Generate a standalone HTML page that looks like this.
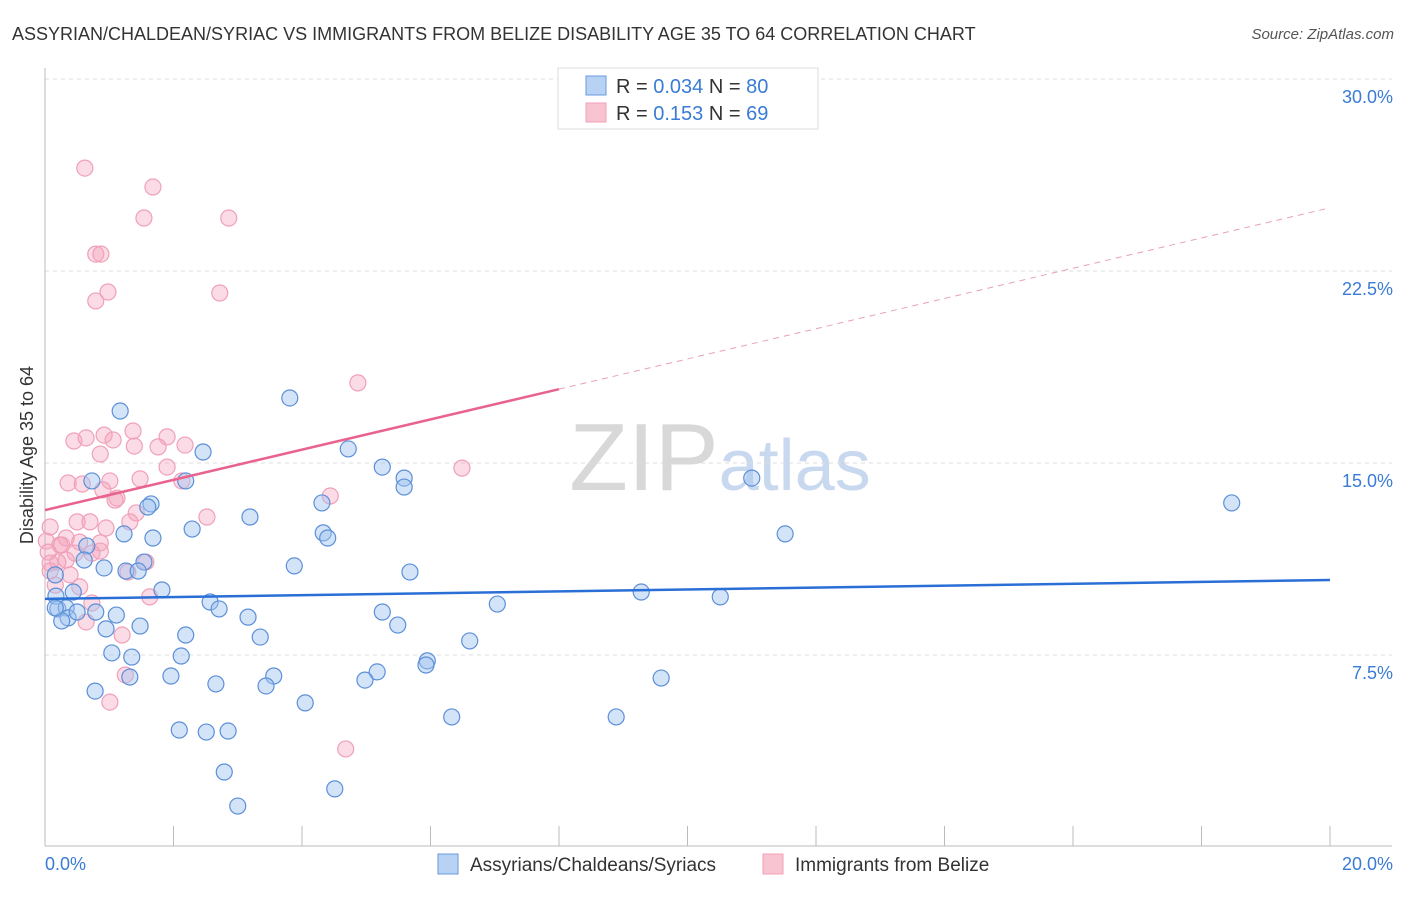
<!DOCTYPE html>
<html><head><meta charset="utf-8"><style>
body{margin:0;background:#fff;font-family:"Liberation Sans",sans-serif}
svg text{font-family:"Liberation Sans",sans-serif}
</style></head><body>
<svg id="c" width="1406" height="892" xmlns="http://www.w3.org/2000/svg">
<text x="12" y="40" font-size="18" fill="#333">ASSYRIAN/CHALDEAN/SYRIAC VS IMMIGRANTS FROM BELIZE DISABILITY AGE 35 TO 64 CORRELATION CHART</text>
<text x="1394" y="39" font-size="15" fill="#555" font-style="italic" text-anchor="end">Source: ZipAtlas.com</text>
<text x="720" y="490" font-size="96" fill="#ddd" text-anchor="middle" font-family="Liberation Serif"><tspan fill="#d8d8d8">ZIP</tspan><tspan fill="#c8d8ee" font-family="Liberation Sans" font-size="72">atlas</tspan></text>
<g id="grid"></g><g id="axes"></g><g id="pts"></g><g id="lines"></g>
<text transform="translate(33,455) rotate(-90)" font-size="18" fill="#333" text-anchor="middle">Disability Age 35 to 64</text>
<g>
<rect x="558" y="68" width="260" height="61" fill="#fff" stroke="#ddd"/>
<rect x="586" y="76" width="20" height="19" fill="#b8d2f4" stroke="#6a9ae0"/>
<rect x="586" y="103" width="20" height="19" fill="#f8c4d2" stroke="#f0a0b8"/>
<text x="616" y="93" font-size="20" fill="#333">R = <tspan fill="#3a7bd5">0.034</tspan>   N = <tspan fill="#3a7bd5">80</tspan></text>
<text x="616" y="120" font-size="20" fill="#333">R =  <tspan fill="#3a7bd5">0.153</tspan>   N = <tspan fill="#3a7bd5">69</tspan></text>
</g>
<g>
<rect x="438" y="854" width="20" height="20" fill="#b8d2f4" stroke="#6a9ae0"/>
<text x="470" y="871" font-size="19" fill="#333">Assyrians/Chaldeans/Syriacs</text>
<rect x="763" y="854" width="20" height="20" fill="#f8c4d2" stroke="#f0a0b8"/>
<text x="795" y="871" font-size="19" fill="#333">Immigrants from Belize</text>
</g>
</svg>
<script>
const blueX=[1.17,3.81,2.46,4.72,2.19,1.65,1.60,0.73,5.25,5.59,5.59,11.00,18.47,4.31,3.19,2.29,1.23,1.68,4.33,4.40,11.52,0.65,1.54,0.61,0.92,3.88,5.68,1.26,1.45,0.16,1.82,0.44,0.17,9.28,10.51,7.04,0.20,0.33,2.57,2.71,5.25,1.11,0.36,0.79,0.26,3.16,5.49,0.95,1.48,2.19,3.35,6.61,1.04,2.12,1.35,5.95,5.93,5.17,1.96,1.32,3.56,4.98,9.59,2.66,3.44,0.78,4.05,6.33,8.89,2.09,2.51,2.85,2.79,3.00,4.51,0.16,0.50];
const blueY=[17.03,17.54,15.43,15.55,14.30,13.40,13.28,14.30,14.84,14.41,14.06,14.41,13.44,13.44,12.89,12.42,12.23,12.07,12.27,12.07,12.23,11.76,11.13,11.21,10.90,10.98,10.74,10.78,10.78,10.63,10.04,9.96,9.80,9.96,9.77,9.49,9.30,9.34,9.57,9.30,9.18,9.06,8.95,9.18,8.83,8.98,8.67,8.52,8.63,8.28,8.20,8.05,7.58,7.46,7.42,7.27,7.11,6.84,6.68,6.64,6.68,6.52,6.60,6.37,6.29,6.09,5.63,5.08,5.08,4.57,4.49,4.53,2.93,1.60,2.27,9.34,9.18];
const pinkX=[0.62,1.68,1.54,2.86,0.79,0.87,0.98,2.72,0.79,4.87,6.49,0.45,0.64,0.92,1.37,1.06,1.90,1.76,2.18,1.39,0.86,0.36,0.58,1.01,1.48,1.90,2.13,0.90,1.12,4.44,1.09,2.52,0.50,0.70,1.42,0.95,1.32,0.08,0.02,0.33,0.23,0.05,0.86,0.47,0.73,0.33,0.20,0.08,0.39,0.86,1.57,1.29,0.54,1.63,0.73,0.64,1.20,1.25,1.01,4.68,0.08,0.16,0.26,0.54];
const pinkY=[26.52,25.78,24.57,24.57,23.16,23.16,21.68,21.64,21.33,18.13,14.80,15.86,15.98,16.09,16.25,15.90,16.02,15.63,15.70,15.66,15.35,14.22,14.18,14.30,14.38,14.84,14.30,13.95,13.63,13.71,13.55,12.89,12.70,12.70,13.05,12.46,12.70,12.50,11.95,12.07,11.80,11.52,11.88,11.48,11.48,11.21,11.13,10.78,10.63,11.56,11.13,10.74,10.16,9.77,9.53,8.79,8.28,6.72,5.66,3.83,11.09,10.23,11.80,11.91];
const yTicks=[7.5,15.0,22.5,30.0];
const xTickLabels=["0.0%","20.0%"];
const blueTrend=[9.69,10.43];
const pinkTrend=[13.16,24.97];
const NS="http://www.w3.org/2000/svg";
const X=v=>45+v*64.25, Y=v=>847-v*25.6;
function mk(p,t,a){const e=document.createElementNS(NS,t);for(const k in a)e.setAttribute(k,a[k]);document.getElementById(p).appendChild(e);return e;}
yTicks.forEach(t=>{
 const g=mk('grid','line',{x1:45,x2:1392,y1:Y(t),y2:Y(t),stroke:'#ddd','stroke-dasharray':'4,4'});
 
 
 const l=mk('grid','text',{x:1393,y:Y(t)+24,'font-size':18,fill:'#3a7bd5','text-anchor':'end'});
 l.textContent=t.toFixed(1)+'%';
 
 
});
const ax=mk('axes','line',{x1:45,x2:45,y1:68,y2:846,stroke:'#bbb'});


const bx=mk('axes','line',{x1:45,x2:1392,y1:846,y2:846,stroke:'#bbb'});


for(let i=0;i<=10;i++){
 const t=mk('axes','line',{x1:X(i*2),x2:X(i*2),y1:826,y2:846,stroke:'#bbb'});
 
 
}
[[0,'start'],[20,'end']].forEach((p,i)=>{
 const l=mk('axes','text',{x:i?1393:45,y:870,'font-size':18,fill:'#3a7bd5','text-anchor':p[1]});
 l.textContent=xTickLabels[i];
 
 
});
pinkX.forEach((x,i)=>{
 const c=mk('pts','circle',{cx:X(x),cy:Y(pinkY[i]),r:8,fill:'rgba(245,165,190,0.4)',stroke:'#f0a0b8','stroke-width':1.2});
 
 
});
blueX.forEach((x,i)=>{
 const c=mk('pts','circle',{cx:X(x),cy:Y(blueY[i]),r:8,fill:'rgba(160,196,240,0.45)',stroke:'#5b8fd8','stroke-width':1.2});
 
 
});
const bl=mk('lines','line',{x1:X(0),x2:X(20),y1:Y(blueTrend[0]),y2:Y(blueTrend[1]),stroke:'#2a6fd6','stroke-width':2.5});


const pm=v=>pinkTrend[0]+(pinkTrend[1]-pinkTrend[0])*v/20;
const pl=mk('lines','line',{x1:X(0),x2:X(8),y1:Y(pm(0)),y2:Y(pm(8)),stroke:'#e8638e','stroke-width':2.5});


const pd=mk('lines','line',{x1:X(8),x2:X(20),y1:Y(pm(8)),y2:Y(pm(20)),stroke:'#e8a0b8','stroke-width':1,'stroke-dasharray':'6,5'});


</script>
</body></html>
